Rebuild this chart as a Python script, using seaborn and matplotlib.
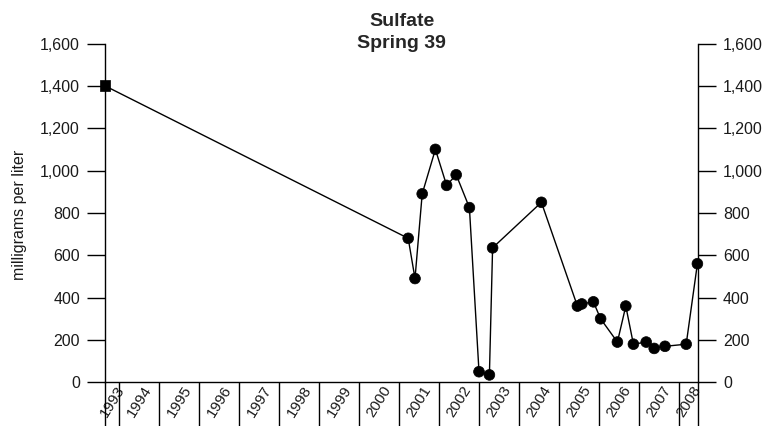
import matplotlib
matplotlib.use("Agg")
import matplotlib.pyplot as plt
import seaborn as sns
import pandas as pd
import numpy as np

# ---- data ----
dates = [1993.65, 2001.23, 2001.40, 2001.58, 2001.91, 2002.19, 2002.43, 2002.76,
         2003.00, 2003.26, 2003.34, 2004.56, 2005.46, 2005.57, 2005.86, 2006.04,
         2006.46, 2006.67, 2006.86, 2007.18, 2007.38, 2007.65, 2008.18, 2008.46]
sulfate = [1400, 680, 490, 890, 1100, 930, 980, 825,
           50, 35, 635, 850, 360, 370, 380, 300,
           190, 360, 180, 190, 160, 170, 180, 560]
marker_kind = ["square"] + ["circle"] * (len(dates) - 1)
year_labels = [str(y) for y in range(1993, 2009)]
yticks = [0, 200, 400, 600, 800, 1000, 1200, 1400, 1600]

df = pd.DataFrame({"date": dates, "sulfate": sulfate, "kind": marker_kind})

sns.set_style("white")
plt.rcParams["font.family"] = ["Liberation Sans", "DejaVu Sans"]

fig = plt.figure(figsize=(7.71, 4.26), dpi=100)
ax = fig.add_axes([105 / 771, 1 - 382.3 / 426, (698 - 105) / 771, (382.3 - 43.5) / 426])

sns.lineplot(data=df, x="date", y="sulfate", color="black", linewidth=1.0,
             sort=False, ax=ax, legend=False)
sns.scatterplot(data=df, x="date", y="sulfate", style="kind",
                markers={"square": "s", "circle": "o"}, color="black",
                s=60, edgecolor="black", linewidth=0.5, ax=ax, legend=False,
                clip_on=False, zorder=5)

xmin, xmax = 1993.65, 2008.475
ax.set_xlim(xmin, xmax)
ax.set_ylim(0, 1600)

# y axis ticks on both sides
ax.set_yticks(yticks)
ax.set_yticklabels([f"{v:,}" for v in yticks])
ax.tick_params(axis="y", which="major", direction="out", length=13, width=1,
               left=True, right=True, labelleft=True, labelright=True,
               labelsize=11.5, labelcolor="#1a1a1a", color="black", pad=5)

# x axis: year cell separators as long minor ticks, labels centred in cells
years = [int(y) for y in year_labels]
boundaries = [y for y in years if xmin < y < xmax]
edges = [xmin] + boundaries + [xmax]
centers = [(edges[i] + edges[i + 1]) / 2 for i in range(len(edges) - 1)]
ax.set_xticks(boundaries, minor=True)
ax.set_xticks(centers)
ax.set_xticklabels(year_labels, rotation=58, ha="center", va="center")
ax.tick_params(axis="x", which="minor", direction="out", length=34, width=1,
               bottom=True, color="black")
ax.tick_params(axis="x", which="major", length=0, pad=13.5, labelsize=11,
               labelcolor="#1a1a1a")

ax.set_xlabel("")
ax.set_ylabel("")
fig.text(20 / 771, 1 - 215 / 426, "milligrams per liter", rotation=90,
         ha="center", va="center", fontsize=11.5, color="#1a1a1a")

for side in ["left", "right", "bottom"]:
    ax.spines[side].set_visible(True)
    ax.spines[side].set_color("black")
    ax.spines[side].set_linewidth(1)
ax.spines["top"].set_visible(False)
ax.spines["left"].set_bounds(0, 1600)
ax.spines["right"].set_bounds(0, 1600)

# extend side spines down through the label band
for xv in [xmin, xmax]:
    ax.plot([xv, xv], [0, -0.13], color="black", linewidth=1,
            transform=ax.get_xaxis_transform(), clip_on=False)

fig.text(401.5 / 771, 1 - 22 / 426, "Sulfate", ha="center", va="center",
         fontsize=14, fontweight="bold")
fig.text(401.5 / 771, 1 - 43.5 / 426, "Spring 39", ha="center", va="center",
         fontsize=14, fontweight="bold")

fig.savefig("out.png", dpi=100)
